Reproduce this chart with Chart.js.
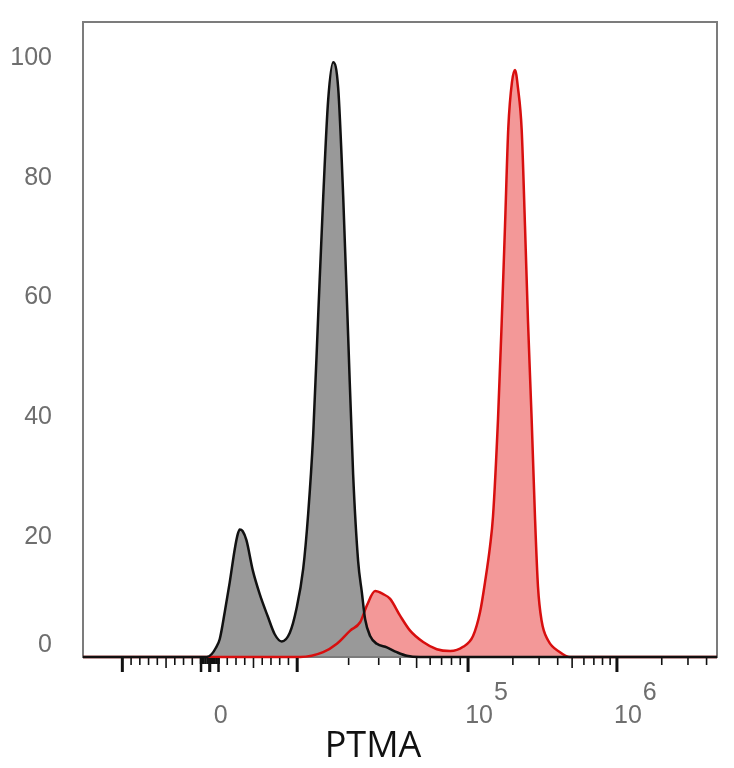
<!DOCTYPE html>
<html lang="en">
<head>
<meta charset="UTF-8">
<title>PTMA histogram</title>
<script src="https://cdn.jsdelivr.net/npm/chart.js@4.4.1/dist/chart.umd.min.js"></script>
<style>
  body { margin: 0; background: #fff; }
  #wrap { width: 734px; height: 768px; }
</style>
</head>
<body>
<div id="wrap"><canvas id="hist" width="734" height="768"></canvas></div>
<script>
// fluorescence values (PTMA) and % of max
var grayX = [-14500, -343, 229, 686, 1143, 1714, 2286, 2857, 3200, 3429, 3771, 4194, 4914, 5714, 6629, 7429, 8229, 9143, 9909,
  10840, 11600, 12400, 13270, 14190, 15180, 16240, 17370, 18580, 19870, 21250, 22730, 23900, 24980, 26720, 29250, 33460, 38290, 43810, 52430, 4700000];
var grayY = [0, 0, 0.5, 1.5, 3, 7.5, 12.5, 18, 20.5, 21.3, 21, 19.5, 14.5, 10.5, 6.8, 3.8, 2.6, 4, 8,
  14.7, 24, 37, 57, 76.6, 93, 99.3, 95, 77, 53.6, 30.5, 16, 10.8, 6.3, 3.5, 2.2, 1.6, 0.8, 0.2, 0, 0];

var redX = [-14500, 10410, 14190, 17070, 20420, 23350, 25570, 28580, 31840, 34990, 40000, 45800, 54600, 65600, 78600, 93500,
  108000, 120400, 130000, 140500, 147100, 158900, 168300, 177100, 186400, 197300, 206700, 216400, 229200, 241200, 252700,
  267400, 281400, 294800, 312100, 344400, 414500, 483700, 4700000];
var redY = [0, 0, 0.8, 2.2, 4.4, 5.8, 8.6, 11, 10.5, 9.7, 6.9, 4.4, 2.5, 1.3, 1.0, 1.7,
  3.5, 7.5, 12.5, 18.5, 23.5, 39.7, 56, 72, 88.4, 96, 98, 95, 88, 72, 56,
  39.7, 23.5, 11.8, 6, 2.8, 0.8, 0, 0];

var xMin = -14500, xMax = 4700000;
var yTicks = [0, 20, 40, 60, 80, 100];
var xMajor = [-10000, 0, 10000, 100000, 1000000];
var xLabelValues = [0, 100000, 1000000];
var xLabelBase = ['0', '10', '10'];
var xLabelExp = ['', '5', '6'];
var axisTitle = 'PTMA';

// biexponential-like display transform: linear near zero, log above 1e4
function T(v) {
  if (v <= 1e4) return v * 0.00875;
  if (v <= 1e5) return 87.5 + 171 * Math.log10(v / 1e4);
  return 258.5 + 149 * Math.log10(v / 1e5);
}

function pts(xs, ys) {
  return xs.map(function (x, i) { return { x: T(x), y: ys[i] }; });
}

// minor / medium ticks
var xMinor = [], xMedium = [];
for (var k = 2; k <= 9; k++) {
  if (k == 5) { xMedium.push(k * 1000, -k * 1000, k * 1e4, k * 1e5); }
  else { xMinor.push(k * 1000, -k * 1000, k * 1e4, k * 1e5); }
  if (k * 1e6 <= xMax) xMinor.push(k * 1e6);
}

var flowAxes = {
  id: 'flowAxes',
  beforeDatasetsDraw: function (chart) {
    var a = chart.chartArea, ctx = chart.ctx;
    ctx.save();
    ctx.strokeStyle = '#7c7c7c';
    ctx.lineWidth = 2;
    ctx.strokeRect(a.left, a.top, a.right - a.left, a.bottom - a.top);
    ctx.restore();
  },
  afterDraw: function (chart) {
    var a = chart.chartArea, ctx = chart.ctx;
    var sx = chart.scales.x, sy = chart.scales.y;
    var y0 = a.bottom + 1;
    ctx.save();
    ctx.strokeStyle = '#111';

    function tick(v, len, w) {
      var px = sx.getPixelForValue(T(v));
      ctx.lineWidth = w;
      ctx.beginPath();
      ctx.moveTo(px, y0);
      ctx.lineTo(px, y0 + len);
      ctx.stroke();
    }
    xMinor.forEach(function (v) { tick(v, 7, 1.6); });
    xMedium.forEach(function (v) { tick(v, 10, 1.6); });
    xMajor.forEach(function (v) { tick(v, 14, 3); });
    // dense block of ticks around zero
    for (var v = -1000; v <= 1000; v += 250) tick(v, 6, 2.5);
    [-1000, 0, 1000].forEach(function (v) { tick(v, 14, 2.5); });

    // x tick labels
    ctx.fillStyle = '#6e6e6e';
    ctx.font = '25px "Liberation Sans", Arial, sans-serif';
    ctx.textBaseline = 'middle';
    xLabelValues.forEach(function (v, i) {
      var px = sx.getPixelForValue(T(v)) + 11;
      ctx.textAlign = 'center';
      ctx.fillText(xLabelBase[i], px, 716);
      if (xLabelExp[i]) {
        var w = ctx.measureText(xLabelBase[i]).width;
        ctx.textAlign = 'left';
        ctx.fillText(xLabelExp[i], px + w / 2 + 1, 693);
      }
    });

    // y tick labels
    ctx.textAlign = 'right';
    yTicks.forEach(function (v) {
      var py = sy.getPixelForValue(v);
      if (v == 0) py -= 12;
      ctx.fillText(String(v), a.left - 31, py);
    });

    // axis title
    ctx.fillStyle = '#111';
    ctx.font = '36px "Open Sans", "Noto Sans", sans-serif';
    ctx.textAlign = 'center';
    ctx.textBaseline = 'alphabetic';
    ctx.fillText(axisTitle, 373, 757);
    ctx.restore();
  }
};

new Chart(document.getElementById('hist'), {
  type: 'line',
  data: {
    datasets: [{
      label: 'control',
      data: pts(grayX, grayY),
      borderColor: '#111111',
      borderWidth: 2.5,
      backgroundColor: 'rgb(153, 153, 153)',
      fill: 'origin',
      pointRadius: 0,
      cubicInterpolationMode: 'monotone',
      clip: 4
    }, {
      label: 'PTMA',
      data: pts(redX, redY),
      borderColor: '#d80f0f',
      borderWidth: 2.5,
      backgroundColor: 'rgba(232, 50, 50, 0.5)',
      fill: 'origin',
      pointRadius: 0,
      cubicInterpolationMode: 'monotone',
      clip: 4
    }]
  },
  options: {
    responsive: false,
    animation: false,
    layout: { padding: { top: 22, right: 17, left: 0, bottom: 0 } },
    plugins: {
      legend: { display: false },
      tooltip: { enabled: false },
      filler: { drawTime: 'beforeDatasetsDraw' }
    },
    scales: {
      x: {
        type: 'linear',
        min: T(xMin),
        max: T(xMax),
        ticks: { display: false },
        grid: { display: false },
        border: { display: false },
        afterFit: function (s) { s.height = 111; }
      },
      y: {
        min: 0,
        max: 106,
        ticks: { display: false },
        grid: { display: false },
        border: { display: false },
        afterFit: function (s) { s.width = 83; }
      }
    }
  },
  plugins: [flowAxes]
});
</script>
</body>
</html>
